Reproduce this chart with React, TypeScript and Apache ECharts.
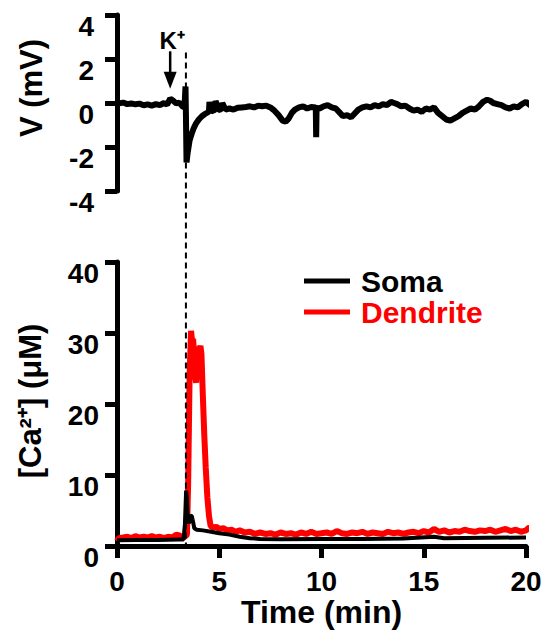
import React, { useEffect, useRef } from "react";
import * as echarts from "echarts";

// ---- data ----
const timeV = [
  0, 0.1, 0.3, 0.5, 0.7, 0.9, 1.1, 1.3, 1.5, 1.7, 1.9, 2.1, 2.3, 2.45, 2.6, 2.75, 2.9, 3.05, 3.2, 3.3,
  3.35, 3.37, 3.4, 3.45, 3.55, 3.65, 3.75, 3.85, 4.0, 4.15, 4.3, 4.45, 4.5, 4.52, 4.6, 4.75, 4.8, 4.82,
  4.95, 5.1, 5.15, 5.3, 5.5, 5.7, 5.9, 6.1, 6.3, 6.5, 6.7, 6.9, 7.1, 7.3, 7.5, 7.7, 7.9, 8.1, 8.25, 8.4,
  8.55, 8.7, 8.9, 9.1, 9.3, 9.5, 9.72, 9.74, 9.76, 9.9, 10.1, 10.3, 10.5, 10.7, 10.9, 11.05, 11.25,
  11.45, 11.6, 11.8, 12.0, 12.2, 12.4, 12.6, 12.8, 13.0, 13.2, 13.4, 13.55, 13.7, 13.9, 14.1, 14.3,
  14.5, 14.7, 14.9, 15.1, 15.3, 15.5, 15.7, 15.9, 16.1, 16.3, 16.5, 16.7, 16.9, 17.1, 17.3, 17.5, 17.7,
  17.9, 18.1, 18.25, 18.4, 18.6, 18.8, 19.0, 19.2, 19.4, 19.6, 19.8, 20.0, 20.2, 20.35,
];
const voltage = [
  0.0, -0.02, 0.02, -0.05, -0.02, -0.06, -0.03, -0.1, -0.06, -0.12, -0.05, -0.1, 0.0, -0.08, 0.2, 0.1,
  -0.02, 0.02, -0.15, -0.2, 0.75, -0.5, -2.7, -2.3, -1.7, -1.4, -1.15, -0.95, -0.75, -0.6, -0.5, -0.42,
  -0.35, 0.05, -0.38, -0.33, -0.3, 0.1, -0.32, -0.28, 0.0, -0.3, -0.25, -0.3, -0.22, -0.2, -0.18, -0.15,
  -0.2, -0.12, -0.15, -0.12, -0.2, -0.35, -0.55, -0.8, -0.85, -0.7, -0.45, -0.3, -0.2, -0.15, -0.25,
  -0.18, -0.2, -1.55, -0.22, -0.25, -0.15, -0.1, -0.2, -0.25, -0.45, -0.6, -0.55, -0.65, -0.5, -0.3,
  -0.2, -0.15, -0.2, -0.1, -0.15, -0.05, -0.1, 0.05, 0.0, -0.05, -0.15, -0.12, -0.25, -0.35, -0.3, -0.4,
  -0.25, -0.3, -0.2, -0.45, -0.6, -0.75, -0.8, -0.7, -0.6, -0.45, -0.35, -0.25, -0.3, -0.15, 0.05, 0.15,
  0.1, 0.0, -0.05, -0.1, -0.2, -0.25, -0.15, -0.2, -0.05, 0.05, -0.1, -0.15,
];

const timeSoma = [
  0, 1, 2, 3, 3.25, 3.32, 3.38, 3.42, 3.46, 3.52, 3.6, 3.66, 3.72, 3.78, 3.9, 4.2, 4.6, 5.0, 5.5, 6.0,
  6.5, 7.0, 8, 10, 12, 14, 15.5, 16, 18, 20,
];
const soma = [
  0.8, 0.85, 0.85, 0.9, 0.9, 3.0, 7.8, 6.5, 3.6, 3.2, 4.3, 4.2, 3.4, 2.5, 2.3, 2.2, 2.0, 1.8, 1.6, 1.3,
  1.1, 1.0, 0.95, 1.0, 1.0, 1.05, 1.3, 1.1, 1.15, 1.2,
];

const timeDendrite = [
  0, 0.08, 0.3, 0.5, 0.7, 0.9, 1.1, 1.3, 1.5, 1.7, 1.9, 2.1, 2.3, 2.5, 2.7, 2.9, 3.05, 3.15, 3.25, 3.35,
  3.42, 3.48, 3.55, 3.62, 3.68, 3.72, 3.77, 3.82, 3.87, 3.92, 3.97, 4.03, 4.08, 4.13, 4.2, 4.27, 4.34,
  4.42, 4.5, 4.58, 4.7, 4.85, 5.0, 5.2, 5.4, 5.6, 5.8, 6.0, 6.25, 6.5, 6.75, 7.0, 7.25, 7.5, 7.75, 8.0,
  8.25, 8.5, 8.75, 9.0, 9.25, 9.5, 9.75, 10.0, 10.25, 10.5, 10.75, 11.0, 11.25, 11.5, 11.75, 12.0,
  12.25, 12.5, 12.75, 13.0, 13.25, 13.5, 13.75, 14.0, 14.25, 14.5, 14.75, 15.0, 15.25, 15.5, 15.75,
  16.0, 16.25, 16.5, 16.75, 17.0, 17.25, 17.5, 17.75, 18.0, 18.25, 18.5, 18.75, 19.0, 19.25, 19.5,
  19.75, 20.0, 20.15, 20.3,
];
const dendrite = [
  0.7, 1.1, 1.2, 1.3, 1.1, 1.4, 1.2, 1.3, 1.2, 1.4, 1.2, 1.3, 1.1, 1.3, 1.2, 1.6, 1.5, 1.3, 1.2, 1.4,
  1.6, 9, 24, 30.3, 28.6, 29.2, 27, 24, 23, 27.5, 28, 27.6, 28.2, 27, 21, 15.5, 11, 6.8, 4.2, 2.8,
  2.6, 2.7, 2.4, 2.5, 2.2, 2.3, 2.0, 2.2, 1.9, 2.0, 1.7, 1.9, 1.7, 1.8, 1.6, 1.9, 1.7, 1.8, 1.6, 1.9,
  1.7, 2.0, 1.7, 1.8, 1.9, 1.7, 2.1, 1.8, 1.7, 1.9, 1.8, 2.0, 1.7, 1.9, 1.8, 1.7, 2.0, 1.8, 1.9, 1.7,
  1.9, 2.0, 1.8, 2.1, 1.9, 2.4, 2.0, 2.2, 1.9, 2.1, 2.0, 2.3, 2.1, 2.0, 2.2, 2.1, 2.3, 2.0, 2.2, 2.4,
  2.1, 2.3, 2.0, 2.2, 2.6, 2.4,
];

const stimTime = 3.37; // K+ application (dashed line)
const arrowTime = 2.6;

const FONT = "'Liberation Sans', Arial, Helvetica, sans-serif";

const zip = (xs: number[], ys: number[]) => xs.map((x, i) => [x, ys[i]]);

export default function App() {
  const ref = useRef<HTMLDivElement>(null);

  useEffect(() => {
    if (!ref.current) return;
    const chart = echarts.init(ref.current, undefined, { renderer: "svg" });

    const axisLine = { show: true, onZero: false, lineStyle: { color: "#000", width: 5 } };
    const axisTick = { show: true, length: 12, lineStyle: { color: "#000", width: 5 } };
    const labelStyle = { color: "#000", fontFamily: FONT, fontWeight: "bold" as const, fontSize: 28 };

    const option: any = {
      animation: false,
      backgroundColor: "#fff",
      grid: [
        { left: 117, width: 409, top: 15, height: 176 },
        { left: 117, width: 409, top: 262, height: 284 },
      ],
      xAxis: [
        { type: "value", gridIndex: 0, min: 0, max: 20, interval: 5, show: false },
        {
          type: "value",
          gridIndex: 1,
          min: 0,
          max: 20,
          interval: 5,
          axisLine,
          axisTick,
          splitLine: { show: false },
          axisLabel: { ...labelStyle, margin: 21 },
          name: "Time (min)",
          nameLocation: "middle",
          nameGap: 50,
          nameTextStyle: { color: "#000", fontFamily: FONT, fontWeight: "bold", fontSize: 32 },
        },
      ],
      yAxis: [
        {
          type: "value",
          gridIndex: 0,
          min: -4,
          max: 4,
          interval: 2,
          axisLine,
          axisTick,
          splitLine: { show: false },
          axisLabel: { ...labelStyle, margin: 23, verticalAlign: "top", lineHeight: 22 },
        },
        {
          type: "value",
          gridIndex: 1,
          min: 0,
          max: 40,
          interval: 10,
          axisLine,
          axisTick,
          splitLine: { show: false },
          axisLabel: { ...labelStyle, margin: 18, verticalAlign: "top", lineHeight: 22 },
        },
      ],
      legend: {
        orient: "vertical",
        left: 299,
        top: 261,
        itemWidth: 46,
        itemHeight: 5,
        itemGap: 1,
        icon: "rect",
        textStyle: { fontFamily: FONT, fontWeight: "bold", fontSize: 30, lineHeight: 30, padding: [0, 0, 0, 6] },
        data: [
          { name: "Soma", textStyle: { color: "#000" } },
          { name: "Dendrite", textStyle: { color: "#ff0000" } },
        ],
      },
      series: [
        {
          name: "V",
          type: "line",
          xAxisIndex: 0,
          yAxisIndex: 0,
          data: zip(timeV, voltage),
          showSymbol: false,
          clip: false,
          lineStyle: { color: "#000", width: 6 },
          z: 3,
        },
        {
          name: "Dendrite",
          type: "line",
          xAxisIndex: 1,
          yAxisIndex: 1,
          data: zip(timeDendrite, dendrite),
          showSymbol: false,
          clip: false,
          color: "#ff0000",
          lineStyle: { color: "#ff0000", width: 6 },
          z: 3,
        },
        {
          name: "Soma",
          type: "line",
          xAxisIndex: 1,
          yAxisIndex: 1,
          data: zip(timeSoma, soma),
          showSymbol: false,
          clip: false,
          color: "#000",
          lineStyle: { color: "#000", width: 4 },
          z: 4,
        },
      ],
    };
    chart.setOption(option);

    const xStim = chart.convertToPixel({ xAxisIndex: 1 }, stimTime) as number;
    const yStimTop = chart.convertToPixel({ yAxisIndex: 0 }, 2.3) as number;
    const yStimBot = chart.convertToPixel({ yAxisIndex: 1 }, 0) as number;
    const xArrow = chart.convertToPixel({ xAxisIndex: 0 }, arrowTime) as number;
    const yArrowTop = chart.convertToPixel({ yAxisIndex: 0 }, 2.35) as number;
    const yArrowTip = chart.convertToPixel({ yAxisIndex: 0 }, 0.65) as number;
    const yLabel = chart.convertToPixel({ yAxisIndex: 0 }, 2.85) as number;

    chart.setOption({
      graphic: [
        {
          type: "line",
          shape: { x1: xStim, y1: yStimTop, x2: xStim, y2: yStimBot },
          style: { stroke: "#000", lineWidth: 2, lineDash: [6, 4] },
          z: 10,
        },
        {
          type: "line",
          shape: { x1: xArrow, y1: yArrowTop, x2: xArrow, y2: yArrowTip - 14 },
          style: { stroke: "#000", lineWidth: 2.5 },
          z: 10,
        },
        {
          type: "polygon",
          shape: {
            points: [
              [xArrow - 6.5, yArrowTip - 17],
              [xArrow + 6.5, yArrowTip - 17],
              [xArrow, yArrowTip],
            ],
          },
          style: { fill: "#000" },
          z: 10,
        },
        {
          type: "text",
          x: xArrow + 2,
          y: yLabel,
          style: {
            text: "K⁺",
            fill: "#000",
            font: `bold 24px ${FONT}`,
            align: "center",
            verticalAlign: "middle",
          },
          z: 10,
        },
        {
          type: "text",
          x: 31,
          y: 88,
          rotation: Math.PI / 2,
          style: {
            text: "V (mV)",
            fill: "#000",
            font: `bold 31px ${FONT}`,
            align: "center",
            verticalAlign: "middle",
          },
        },
        {
          type: "text",
          x: 30,
          y: 401,
          rotation: Math.PI / 2,
          style: {
            text: "[Ca²⁺] (μM)",
            fill: "#000",
            font: `bold 31px ${FONT}`,
            align: "center",
            verticalAlign: "middle",
          },
        },
      ],
    });

    return () => chart.dispose();
  }, []);

  return (
    <div
      ref={ref}
      style={{ position: "absolute", left: 0, top: 0, width: 556, height: 636 }}
    />
  );
}
